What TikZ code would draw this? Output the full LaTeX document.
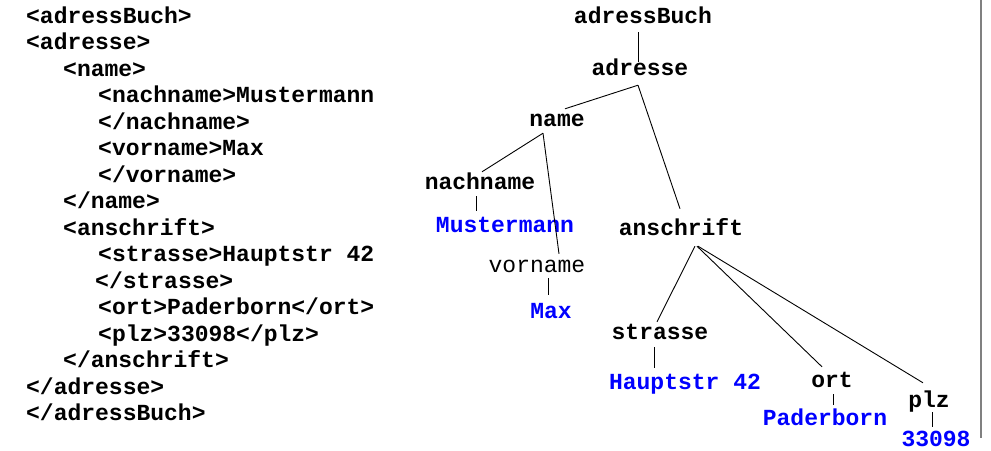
\documentclass[tikz,border=0pt]{standalone}
\usepackage{fontspec}
\newfontfamily\cour{Liberation Mono}
\usetikzlibrary{calc}
\tikzset{
  code/.style={anchor=base west,inner sep=0pt,font=\cour\bfseries\fontsize{23}{26}\selectfont},
  tnode/.style={anchor=center,inner sep=0pt,text height=18pt,text depth=4pt,font=\cour\bfseries\fontsize{23}{26}\selectfont},
  tval/.style={tnode,text={rgb,255:red,0;green,0;blue,255}},
  edge/.style={draw=black,line width=0.9pt},
}
\begin{document}
\begin{tikzpicture}[x=1pt,y=-1pt]
\useasboundingbox (0,0) rectangle (991,450);
% code listing
\node[code] (l1) at (26,23) {<adressBuch>};
\node[code] (l2) at (26,49.5) {<adresse>};
\node[code] (l3) at (63,76) {<name>};
\node[code] (l4) at (98,102.5) {<nachname>Mustermann};
\node[code] (l5) at (98,129) {</nachname>};
\node[code] (l6) at (98,155.5) {<vorname>Max};
\node[code] (l7) at (98,182) {</vorname>};
\node[code] (l8) at (63,208.5) {</name>};
\node[code] (l9) at (63,235) {<anschrift>};
\node[code] (l10) at (98,261.5) {<strasse>Hauptstr 42};
\node[code] (l11) at (95,288) {</strasse>};
\node[code] (l12) at (98,314.5) {<ort>Paderborn</ort>};
\node[code] (l13) at (98,341) {<plz>33098</plz>};
\node[code] (l14) at (63,367.5) {</anschrift>};
\node[code] (l15) at (26,394) {</adresse>};
\node[code] (l16) at (26,420.5) {</adressBuch>};
% tree
\node[tnode] (ab) at (643,16) {adressBuch};
\node[tnode] (ad) at (640,68) {adresse};
\node[tnode] (na) at (557,119) {name};
\node[tnode] (nn) at (480,182) {nachname};
\node[tval] (mu) at (505,225) {Mustermann};
\node[tnode,font=\cour\mdseries\fontsize{23}{26}\selectfont] (vn) at (537,265) {vorname};
\node[tval] (mx) at (551,311) {Max};
\node[tnode] (an) at (681,228) {anschrift};
\node[tnode] (st) at (660,332) {strasse};
\node[tval] (hs) at (685,382) {Hauptstr 42};
\node[tnode] (or) at (832,380) {ort};
\node[tval] (pb) at (825,418) {Paderborn};
\node[tnode] (pl) at (929,400) {plz};
\node[tval] (pz) at (936,439) {33098};
% edges
\draw[edge] ($(ab.south)+(-5,5)$) -- ($(ad.north)+(-2,5)$);
\draw[edge] ($(ad.south)+(-2,6)$) -- ($(na.north)+(8,1)$);
\draw[edge] ($(ad.south)+(-2,6)$) -- ($(an.north)+(-1,-8)$);
\draw[edge] ($(na.south)+(-14,3)$) -- ($(nn.north)+(2,1)$);
\draw[edge] ($(na.south)+(-14,3)$) -- ($(vn.north)+(22,0)$);
\draw[edge] ($(nn.south)+(-4,3)$) -- ($(mu.north)+(-29,-3)$);
\draw[edge] ($(vn.south)+(11,2)$) -- ($(mx.north)+(-3,-5)$);
\draw[edge] ($(an.south)+(14,7)$) -- ($(st.north)+(-3,1)$);
\draw[edge] ($(an.south)+(16,7)$) -- ($(or.north)+(-10,-2)$);
\draw[edge] ($(an.south)+(17,7)$) -- ($(pl.north)+(-6,-6)$);
\draw[edge] ($(st.south)+(-6,4)$) -- ($(hs.north)+(-31,-3)$);
\draw[edge] ($(or.south)+(1,3)$) -- ($(pb.north)+(8,-2)$);
\draw[edge] ($(pl.south)+(3,1)$) -- ($(pz.north)+(-4,-1)$);
% right border
\draw[draw={rgb,255:red,128;green,128;blue,128},line width=1.5pt] (981,0) -- (981,438);
\end{tikzpicture}
\end{document}
